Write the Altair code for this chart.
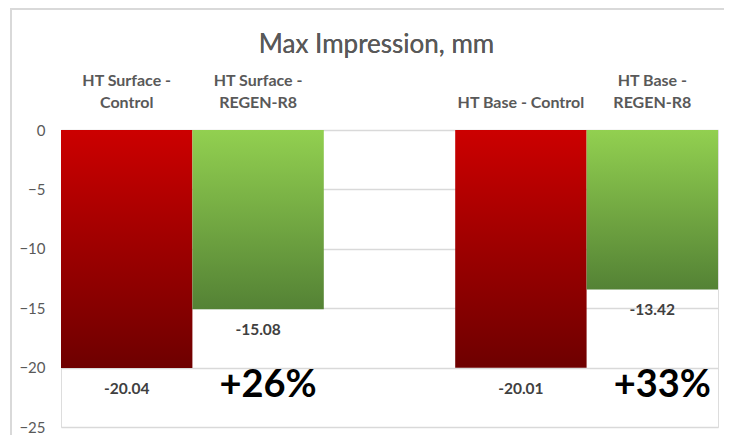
import altair as alt
import pandas as pd

categories = ["HT Surface - Control", "HT Surface - REGEN-R8", "gap", "HT Base - Control", "HT Base - REGEN-R8"]
label_line1 = ["HT Surface -", "HT Surface -", "", "", "HT Base -"]
label_line2 = ["Control", "REGEN-R8", "", "HT Base - Control", "REGEN-R8"]
groups = ["Control", "REGEN", "", "Control", "REGEN"]
values = [-20.04, -15.08, None, -20.01, -13.42]
value_labels = ["-20.04", "-15.08", "", "-20.01", "-13.42"]

pct_categories = ["HT Surface - REGEN-R8", "HT Base - REGEN-R8"]
pct_anchor = [-20.04, -20.01]
pct_labels = ["+26%", "+33%"]

y_ticks = [0, -5, -10, -15, -20, -25]

df = pd.DataFrame({"cat": categories, "group": groups, "value": values, "label": value_labels,
                   "l1": label_line1, "l2": label_line2})
df_bars = df[df["group"] != ""]
pct_df = pd.DataFrame({"cat": pct_categories, "anchor": pct_anchor, "label": pct_labels})

FONT = "Lato"
W, H = 657, 297
TOP = 122

x_scale = alt.Scale(domain=categories, paddingInner=0, paddingOuter=0)
x_enc = alt.X("cat:N", sort=categories, scale=x_scale, axis=None)
y_scale = alt.Scale(domain=[-25, 0], nice=False, zero=False)

base = alt.Chart(df_bars)

red_grad = alt.Gradient(
    gradient="linear",
    stops=[alt.GradientStop(color="#cc0000", offset=0), alt.GradientStop(color="#6e0000", offset=1)],
    x1=0, x2=0, y1=0, y2=1,
)
green_grad = alt.Gradient(
    gradient="linear",
    stops=[alt.GradientStop(color="#92d050", offset=0), alt.GradientStop(color="#548235", offset=1)],
    x1=0, x2=0, y1=0, y2=1,
)

y_enc = alt.Y(
    "value:Q", scale=y_scale, title=None,
    axis=alt.Axis(values=y_ticks, ticks=False, domain=False, labelFont=FONT, labelFontSize=15,
                  labelColor="#595959", labelPadding=16, gridColor="#d9d9d9", gridWidth=1.5),
)

red = base.transform_filter(alt.datum.group == "Control").mark_bar(fill=red_grad).encode(
    x=x_enc, y=y_enc, y2=alt.datum(0)
)
green = base.transform_filter(alt.datum.group == "REGEN").mark_bar(fill=green_grad).encode(
    x=alt.X("cat:N", sort=categories), y=alt.Y("value:Q"), y2=alt.datum(0)
)

vals = base.mark_text(dy=21, font=FONT, fontSize=15.5, fontWeight="bold", color="#404040").encode(
    x=alt.X("cat:N", sort=categories), y=alt.Y("value:Q"), text="label:N"
)

cat_style = dict(font=FONT, fontSize=16, fontWeight="bold", color="#595959", baseline="middle")
cat1 = base.mark_text(**cat_style).encode(
    x=alt.X("cat:N", sort=categories), y=alt.value(-49), text="l1:N"
)
cat2 = base.mark_text(**cat_style).encode(
    x=alt.X("cat:N", sort=categories), y=alt.value(-27), text="l2:N"
)

pct = alt.Chart(pct_df).mark_text(dx=10, dy=18, font=FONT, fontSize=38, fontWeight="bold", color="#000000").encode(
    x=alt.X("cat:N", sort=categories), y=alt.Y("anchor:Q"), text="label:N"
)

border = alt.Chart(pct_df).mark_rect(fill=None, stroke="#d9d9d9", strokeWidth=2).encode(
    x=alt.value(-50), x2=alt.value(W + 40), y=alt.value(-TOP + 1), y2=alt.value(H + 40)
)

title = alt.Chart(pct_df).mark_text(font=FONT, fontSize=26, color="#595959", baseline="middle", align="center").encode(
    x=alt.value(W / 2 - 13), y=alt.value(37 - TOP), text=alt.value("Max Impression, mm")
)

chart = alt.layer(border, red, green, vals, cat1, cat2, pct, title).properties(
    width=W, height=H,
    autosize=alt.AutoSizeParams(type="none"),
    padding={"left": 53, "top": TOP, "right": 6, "bottom": 8},
).configure_view(stroke=None).configure(background="white")

chart.save("out.html", embed_options={"renderer": "svg", "actions": False})
